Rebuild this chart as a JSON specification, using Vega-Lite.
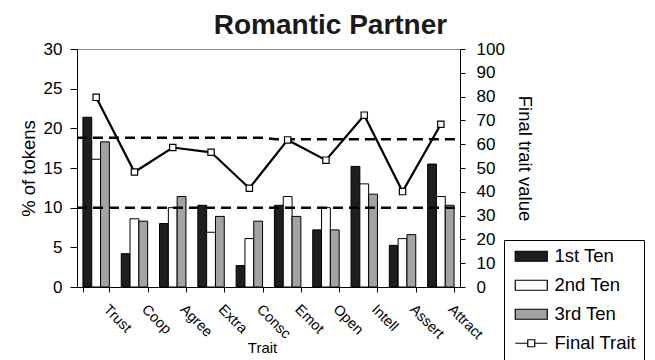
{
  "$schema": "https://vega.github.io/schema/vega-lite/v6.json",
  "autosize": {"type": "none"},
  "padding": {"left": 77, "top": 49, "right": 195, "bottom": 73},
  "width": 383,
  "height": 238,
  "background": "white",
  "title": {
    "text": "Romantic Partner",
    "font": "Liberation Sans",
    "fontSize": 28,
    "fontWeight": "bold",
    "color": "#1a1a1a",
    "anchor": "middle",
    "baseline": "bottom",
    "dx": 62,
    "dy": 37,
    "offset": 9
  },
  "datasets": {
    "tokens": [
      {"trait": "Trust", "series": "1st Ten", "pct": 21.4},
      {"trait": "Trust", "series": "2nd Ten", "pct": 16.1},
      {"trait": "Trust", "series": "3rd Ten", "pct": 18.3},
      {"trait": "Coop", "series": "1st Ten", "pct": 4.2},
      {"trait": "Coop", "series": "2nd Ten", "pct": 8.6},
      {"trait": "Coop", "series": "3rd Ten", "pct": 8.3},
      {"trait": "Agree", "series": "1st Ten", "pct": 8.0},
      {"trait": "Agree", "series": "2nd Ten", "pct": 10.0},
      {"trait": "Agree", "series": "3rd Ten", "pct": 11.4},
      {"trait": "Extra", "series": "1st Ten", "pct": 10.3},
      {"trait": "Extra", "series": "2nd Ten", "pct": 6.9},
      {"trait": "Extra", "series": "3rd Ten", "pct": 8.9},
      {"trait": "Consc", "series": "1st Ten", "pct": 2.7},
      {"trait": "Consc", "series": "2nd Ten", "pct": 6.1},
      {"trait": "Consc", "series": "3rd Ten", "pct": 8.3},
      {"trait": "Emot", "series": "1st Ten", "pct": 10.3},
      {"trait": "Emot", "series": "2nd Ten", "pct": 11.4},
      {"trait": "Emot", "series": "3rd Ten", "pct": 8.9},
      {"trait": "Open", "series": "1st Ten", "pct": 7.2},
      {"trait": "Open", "series": "2nd Ten", "pct": 10.0},
      {"trait": "Open", "series": "3rd Ten", "pct": 7.2},
      {"trait": "Intell", "series": "1st Ten", "pct": 15.2},
      {"trait": "Intell", "series": "2nd Ten", "pct": 13.0},
      {"trait": "Intell", "series": "3rd Ten", "pct": 11.7},
      {"trait": "Assert", "series": "1st Ten", "pct": 5.25},
      {"trait": "Assert", "series": "2nd Ten", "pct": 6.1},
      {"trait": "Assert", "series": "3rd Ten", "pct": 6.6},
      {"trait": "Attract", "series": "1st Ten", "pct": 15.5},
      {"trait": "Attract", "series": "2nd Ten", "pct": 11.4},
      {"trait": "Attract", "series": "3rd Ten", "pct": 10.3}
    ],
    "final": [
      {"trait": "Trust", "series": "Final Trait", "value": 79.7},
      {"trait": "Coop", "series": "Final Trait", "value": 48.3},
      {"trait": "Agree", "series": "Final Trait", "value": 58.6},
      {"trait": "Extra", "series": "Final Trait", "value": 56.6},
      {"trait": "Consc", "series": "Final Trait", "value": 41.5},
      {"trait": "Emot", "series": "Final Trait", "value": 61.8},
      {"trait": "Open", "series": "Final Trait", "value": 53.3},
      {"trait": "Intell", "series": "Final Trait", "value": 72.2},
      {"trait": "Assert", "series": "Final Trait", "value": 40.1},
      {"trait": "Attract", "series": "Final Trait", "value": 68.4}
    ],
    "bands": [
      {"level": "upper", "pos": 0, "pct": 18.8},
      {"level": "upper", "pos": 4.85, "pct": 18.8},
      {"level": "upper", "pos": 5.2, "pct": 18.62},
      {"level": "upper", "pos": 10, "pct": 18.62},
      {"level": "lower", "pos": 0, "pct": 10.0},
      {"level": "lower", "pos": 10, "pct": 10.0}
    ]
  },
  "layer": [
    {
      "data": {"name": "tokens"},
      "mark": {"type": "bar", "stroke": "black", "strokeWidth": 1},
      "encoding": {
        "x": {
          "field": "trait",
          "type": "nominal",
          "sort": ["Trust", "Coop", "Agree", "Extra", "Consc", "Emot", "Open", "Intell", "Assert", "Attract"],
          "scale": {"paddingInner": 0.31, "paddingOuter": 0.155},
          "axis": {
            "title": "Trait",
            "tickBand": "extent",
            "tickSize": 5,
            "labelAngle": 45,
            "labelAlign": "left",
            "labelBaseline": "middle",
            "labelFontSize": 14.5,
            "labelPadding": 15,
            "labelOffset": 9,
            "titleFontSize": 15,
            "titleX": 185,
            "titleY": 65,
            "titleBaseline": "alphabetic"
          }
        },
        "xOffset": {
          "field": "series",
          "type": "nominal",
          "sort": ["1st Ten", "2nd Ten", "3rd Ten"],
          "scale": {"paddingInner": 0, "paddingOuter": 0}
        },
        "y": {
          "field": "pct",
          "type": "quantitative",
          "scale": {"domain": [0, 30]},
          "axis": {
            "title": "% of tokens",
            "values": [0, 5, 10, 15, 20, 25, 30],
            "tickSize": 7,
            "labelPadding": 8,
            "labelFontSize": 17,
            "titleFontSize": 18.5,
            "titlePadding": 5
          }
        },
        "fill": {
          "field": "series",
          "type": "nominal",
          "scale": {
            "domain": ["1st Ten", "2nd Ten", "3rd Ten", "Final Trait"],
            "range": ["#1e1e1e", "#ffffff", "#a3a3a3", "#ffffff"]
          },
          "legend": {
            "title": null, "orient": "none", "legendX": 427, "legendY": 191,
            "encode": {"symbols": {"update": {"stroke": {"value": "black"}, "strokeWidth": {"value": 1.2}, "opacity": {"value": 1}}}}
          }
        }
      }
    },
    {
      "data": {"name": "bands"},
      "mark": {"type": "line", "stroke": "black", "strokeWidth": 2.5, "strokeDash": [10, 6]},
      "encoding": {
        "x": {"field": "pos", "type": "quantitative", "scale": {"domain": [0, 10], "nice": false, "zero": false}, "axis": null},
        "y": {"field": "pct", "type": "quantitative", "scale": {"domain": [0, 30]}, "axis": null},
        "detail": {"field": "level", "type": "nominal"}
      }
    },
    {
      "data": {"name": "final"},
      "mark": {"type": "line", "stroke": "black", "strokeWidth": 2.2},
      "encoding": {
        "x": {
          "field": "trait",
          "type": "nominal",
          "sort": ["Trust", "Coop", "Agree", "Extra", "Consc", "Emot", "Open", "Intell", "Assert", "Attract"],
          "scale": {"type": "point", "padding": 0.5},
          "axis": null
        },
        "y": {"field": "value", "type": "quantitative", "scale": {"domain": [0, 100]}, "axis": null}
      }
    },
    {
      "data": {"name": "final"},
      "mark": {"type": "point", "shape": "square", "size": 40, "filled": true, "fill": "white", "stroke": "black", "strokeWidth": 1.2, "opacity": 1},
      "encoding": {
        "x": {
          "field": "trait",
          "type": "nominal",
          "sort": ["Trust", "Coop", "Agree", "Extra", "Consc", "Emot", "Open", "Intell", "Assert", "Attract"],
          "scale": {"type": "point", "padding": 0.5},
          "axis": null
        },
        "y": {
          "field": "value",
          "type": "quantitative",
          "scale": {"domain": [0, 100]},
          "axis": {
            "orient": "right",
            "title": "Final trait value",
            "values": [0, 10, 20, 30, 40, 50, 60, 70, 80, 90, 100],
            "tickSize": 5,
            "labelPadding": 11,
            "labelFontSize": 17,
            "titleFontSize": 18.5,
            "titlePadding": 10,
            "titleY": 109
          }
        }
      }
    },
    {
      "data": {"name": "final"},
      "mark": {"type": "point", "filled": true, "opacity": 0, "stroke": "black", "strokeWidth": 1.2},
      "encoding": {
        "x": {
          "field": "trait",
          "type": "nominal",
          "sort": ["Trust", "Coop", "Agree", "Extra", "Consc", "Emot", "Open", "Intell", "Assert", "Attract"],
          "scale": {"type": "point", "padding": 0.5},
          "axis": null
        },
        "y": {"field": "value", "type": "quantitative", "scale": {"domain": [0, 100]}, "axis": null},
        "fill": {
          "field": "series",
          "type": "nominal",
          "scale": {
            "domain": ["1st Ten", "2nd Ten", "3rd Ten", "Final Trait"],
            "range": ["#1e1e1e", "#ffffff", "#a3a3a3", "#ffffff"]
          },
          "legend": {
            "title": null, "orient": "none", "legendX": 427, "legendY": 191,
            "encode": {"symbols": {"update": {"stroke": {"value": "black"}, "strokeWidth": {"value": 1.2}, "opacity": {"value": 1}}}}
          }
        },
        "shape": {
          "field": "series",
          "type": "nominal",
          "scale": {
            "domain": ["1st Ten", "2nd Ten", "3rd Ten", "Final Trait"],
            "range": [
              "M-3.2,-1H3.2V1H-3.2Z",
              "M-3.2,-1H3.2V1H-3.2Z",
              "M-3.2,-1H3.2V1H-3.2Z",
              "M-3.2,0H-0.7M0.7,0H3.2M-0.7,-0.7H0.7V0.7H-0.7Z"
            ]
          },
          "legend": {
            "title": null, "orient": "none", "legendX": 427, "legendY": 191,
            "encode": {"symbols": {"update": {"stroke": {"value": "black"}, "strokeWidth": {"value": 1.2}, "opacity": {"value": 1}}}}
          }
        }
      }
    }
  ],
  "resolve": {"scale": {"x": "independent", "y": "independent"}},
  "config": {
    "font": "Liberation Sans",
    "view": {"stroke": "#8c8c8c", "strokeWidth": 1},
    "axis": {
      "grid": false,
      "domainColor": "black",
      "domainWidth": 1,
      "tickColor": "black",
      "tickWidth": 1,
      "labelColor": "black",
      "titleColor": "black",
      "titleFontWeight": "normal"
    },
    "legend": {
      "labelFontSize": 18.5,
      "labelColor": "black",
      "strokeColor": "black",
      "fillColor": "white",
      "padding": 7,
      "rowPadding": 10,
      "symbolSize": 100,
      "symbolOffset": 11,
      "labelOffset": 14,
      "symbolStrokeColor": "black",
      "symbolStrokeWidth": 1.2,
      "symbolOpacity": 1
    }
  }
}
